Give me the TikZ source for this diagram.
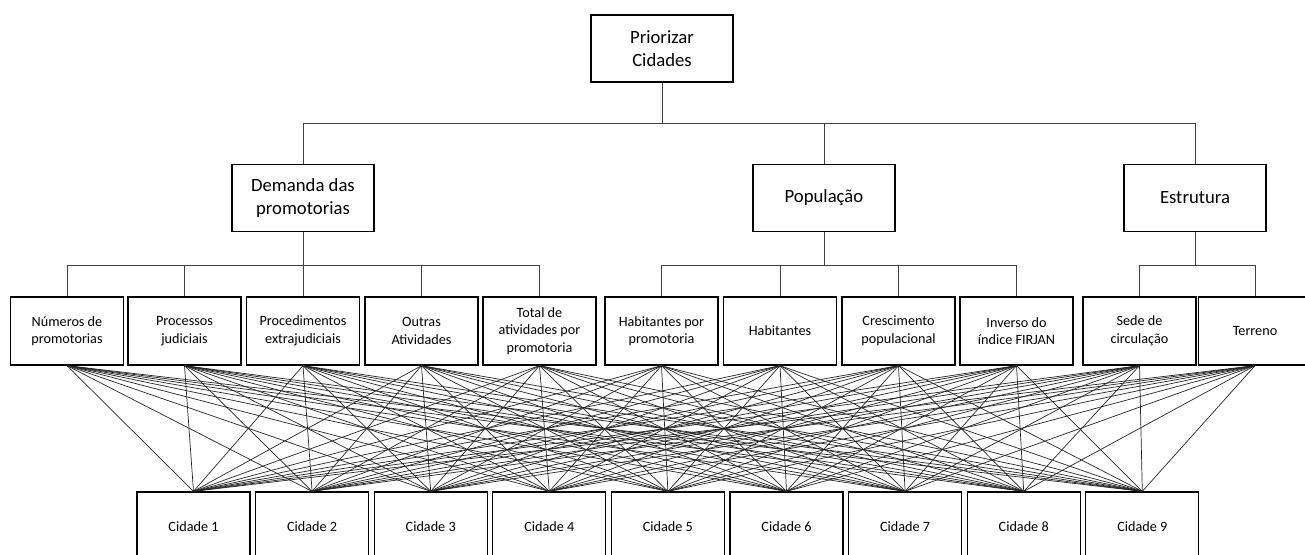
\documentclass[tikz,border=0pt]{standalone}
\usepackage{fontspec}
\setmainfont{Carlito}
\begin{document}
\begin{tikzpicture}[x=1pt,y=-1pt,
  bigbox/.style={draw=black,line width=1.3pt,fill=white,minimum width=142pt,minimum height=67pt,inner sep=0pt,align=center,font=\fontsize{18.7}{22.3}\selectfont},
  leafbox/.style={draw=black,line width=1.3pt,fill=white,minimum width=113pt,minimum height=68pt,inner sep=0pt,align=center,font=\fontsize{14.2}{17.5}\selectfont},
  citybox/.style={draw=black,line width=1.3pt,fill=white,minimum width=113pt,minimum height=70pt,inner sep=0pt,align=center,font=\fontsize{14.2}{17.5}\selectfont},
  tree/.style={draw=black!75,line width=0.9pt},
  link/.style={draw=black!85,line width=0.7pt}]
\useasboundingbox (0,0) rectangle (1305,554);
\clip (0,0) rectangle (1305,554);
\fill[white] (0,0) rectangle (1305,554);

% root
\node[bigbox] (root) at (662,48.5) {Priorizar\\Cidades};
% level 1
\node[bigbox] (dem) at (303,198) {Demanda das\\promotorias};
\node[bigbox] (pop) at (824,198) {População};
\node[bigbox] (est) at (1195,198) {Estrutura};

% leaves
\node[leafbox] (l1) at (67,331) {Números de\\promotorias};
\node[leafbox] (l2) at (184.5,331) {Processos\\judiciais};
\node[leafbox] (l3) at (303,331) {Procedimentos\\extrajudiciais};
\node[leafbox] (l4) at (421.5,331) {Outras\\Atividades};
\node[leafbox] (l5) at (539.5,331) {Total de\\atividades por\\promotoria};
\node[leafbox] (l6) at (661.5,331) {Habitantes por\\promotoria};
\node[leafbox] (l7) at (780,331) {Habitantes};
\node[leafbox] (l8) at (898.5,331) {Crescimento\\populacional};
\node[leafbox] (l9) at (1016.5,331) {Inverso do\\índice FIRJAN};
\node[leafbox] (l10) at (1139.5,331) {Sede de\\circulação};
\node[leafbox] (l11) at (1255,331) {Terreno};

% cities
\foreach \i in {1,...,9}{
  \node[citybox] (c\i) at ({193.5+118.6*(\i-1)},527) {Cidade \i};
}

% tree connectors
\coordinate (j0) at (662,123);
\coordinate (jd) at (303,265);
\coordinate (jp) at (824,265);
\coordinate (je) at (1195,265);
\draw[tree] (root.south) -- (j0);
\draw[tree] (j0) -| (dem.north);
\draw[tree] (j0) -| (pop.north);
\draw[tree] (j0) -| (est.north);
\draw[tree] (dem.south) -- (jd);
\foreach \k in {1,...,5}{\draw[tree] (jd) -| (l\k.north);}
\draw[tree] (pop.south) -- (jp);
\foreach \k in {6,...,9}{\draw[tree] (jp) -| (l\k.north);}
\draw[tree] (est.south) -- (je);
\foreach \k in {10,11}{\draw[tree] (je) -| (l\k.north);}

% leaf-to-city links
\foreach \k in {1,...,11}{
  \foreach \i in {1,...,9}{
    \draw[link] (l\k.south) -- (c\i.north);
  }
}
\end{tikzpicture}
\end{document}
